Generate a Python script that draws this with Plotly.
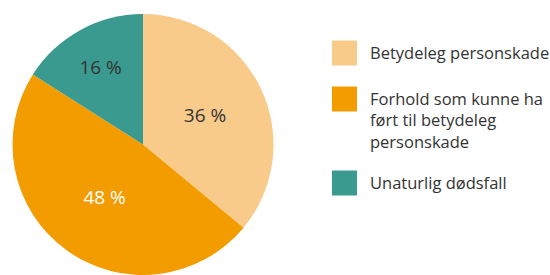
import plotly.graph_objects as go

labels = ["Betydeleg personskade", "Forhold som kunne ha<br>ført til betydeleg<br>personskade", "Unaturlig dødsfall"]
values = [36, 48, 16]
text_labels = ["36 %", "48 %", "16 %"]
colors = ["#F9CB8B", "#F29C00", "#3A9A8F"]
text_colors = ["#333333", "#FFFFFF", "#333333"]

FONT = "Open Sans"

fig = go.Figure()
fig.add_trace(go.Pie(
    labels=labels,
    values=values,
    text=text_labels,
    textinfo="text",
    textposition="inside",
    insidetextorientation="horizontal",
    textfont=dict(family=FONT, size=19, color=text_colors),
    marker=dict(colors=colors, line=dict(width=0)),
    sort=False,
    direction="clockwise",
    rotation=0,
    showlegend=False,
    hoverinfo="label+percent",
    domain=dict(x=[12/550, 274/550], y=[0, 261/275]),
))

# Custom legend (large square swatches)
legend_y = [53, 99, 183]   # centre of swatch, px from top
for lab, col, yc in zip(labels, colors, legend_y):
    fig.add_shape(type="rect", xref="paper", yref="paper",
                  x0=332/550, x1=357/550,
                  y0=1 - (yc - 12.5)/275, y1=1 - (yc + 12.5)/275,
                  fillcolor=col, line=dict(width=0))
    fig.add_annotation(xref="paper", yref="paper", x=368/550, y=1 - (yc - 14)/275,
                       text=lab, showarrow=False, xanchor="left", yanchor="top",
                       align="left", font=dict(family=FONT, size=16.5, color="#333333"))

fig.update_layout(
    width=550, height=275,
    margin=dict(l=0, r=0, t=0, b=0),
    paper_bgcolor="white",
    plot_bgcolor="white",
)

fig.write_html("out.html", config={"displayModeBar": False},
               post_script="document.body.style.margin='0';document.body.style.overflow='hidden';")
